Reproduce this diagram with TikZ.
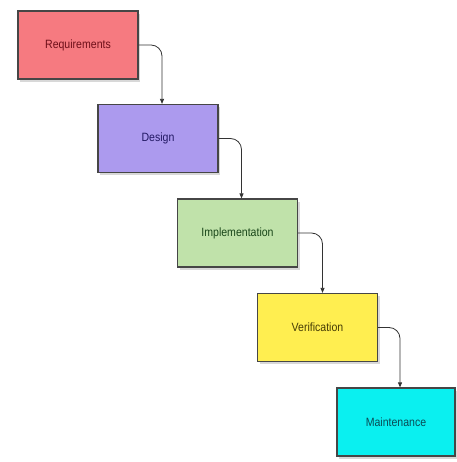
\documentclass[tikz,border=0pt]{standalone}
\usepackage{fontspec}
\setmainfont{Liberation Sans}
\usetikzlibrary{shadows,arrows.meta}
\definecolor{reqfill}{RGB}{246,122,128}
\definecolor{reqtext}{RGB}{110,15,25}
\definecolor{desfill}{RGB}{172,154,238}
\definecolor{destext}{RGB}{35,25,100}
\definecolor{impfill}{RGB}{192,226,170}
\definecolor{imptext}{RGB}{25,70,25}
\definecolor{verfill}{RGB}{255,238,80}
\definecolor{vertext}{RGB}{70,60,5}
\definecolor{maifill}{RGB}{10,240,240}
\definecolor{maitext}{RGB}{10,75,85}
\definecolor{boxline}{RGB}{70,70,70}
\tikzset{
  phase/.style={draw=boxline, line width=1.2pt, minimum width=120pt, minimum height=68pt,
    inner sep=0pt, font=\fontsize{12}{13}\selectfont,
    drop shadow={opacity=0.3, shadow xshift=2pt, shadow yshift=-3pt}},
  flow/.style={draw=black!80, line width=0.8pt, rounded corners=11pt,
    -{Triangle[length=5pt,width=4pt]}}
}
\begin{document}
\begin{tikzpicture}[x=1pt,y=1pt]
\useasboundingbox (0,0) rectangle (456,462);
\fill[white] (0,0) rectangle (456,462);
\node[phase, fill=reqfill, text=reqtext] (req) at (78,417) {\scalebox{0.88}[1]{Requirements}};
\node[phase, fill=desfill, text=destext] (des) at (158,323.5) {\scalebox{0.88}[1]{Design}};
\node[phase, fill=impfill, text=imptext] (imp) at (237.5,229) {\scalebox{0.88}[1]{Implementation}};
\node[phase, fill=verfill, text=vertext] (ver) at (317.5,134.5) {\scalebox{0.88}[1]{Verification}};
\node[phase, fill=maifill, text=maitext, minimum width=118pt] (mai) at (396,40) {\scalebox{0.88}[1]{Maintenance}};
\draw[flow] (req.east) -| ([xshift=4pt]des.north);
\draw[flow] (des.east) -| ([xshift=4pt]imp.north);
\draw[flow] (imp.east) -| ([xshift=5pt]ver.north);
\draw[flow] (ver.east) -| ([xshift=4pt]mai.north);
\end{tikzpicture}
\end{document}
